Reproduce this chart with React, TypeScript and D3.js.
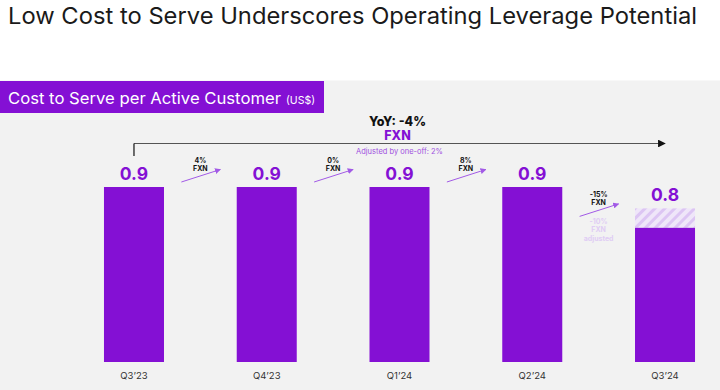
import * as d3 from 'd3'

const categories = ['Q3’23', 'Q4’23', 'Q1’24', 'Q2’24', 'Q3’24']
// reported cost to serve (bar height incl. one-off) and the label shown above
const reportedValues = [0.9, 0.9, 0.9, 0.9, 0.79]
const adjustedValues = [0.9, 0.9, 0.9, 0.9, 0.69]
const valueLabels = ['0.9', '0.9', '0.9', '0.9', '0.8']
const changeLabels = ['4%', '0%', '8%', '-15%']
const adjustedChangeLabels = [null, null, null, '-10%']

const W = 720
const H = 390
const PURPLE = '#8410d4'
const ARROW = '#a25ae6'
const LIGHT = '#e0cdf4'
const FONT = 'Inter, "Noto Sans", sans-serif'

export default function App() {
  const x = d3.scaleBand<string>().domain(categories).range([67.6, 731.4]).paddingInner(0.548).paddingOuter(0.274)
  const y = d3.scaleLinear().domain([0, 0.9]).range([362, 187])
  const bw = x.bandwidth()
  const cx = (c: string) => (x(c) as number) + bw / 2

  const bracketY = 143.5
  const bx0 = cx(categories[0])
  const bx1 = cx(categories[categories.length - 1])
  const bmid = (bx0 + bx1) / 2

  return (
    <svg width={W} height={H} style={{ position: 'absolute', left: 0, top: 0, fontFamily: FONT }}>
      <defs>
        <pattern id="hatch" width="7" height="7" patternUnits="userSpaceOnUse" patternTransform="rotate(45)">
          <rect width="7" height="7" fill="#efe6f9" />
          <rect width="3" height="7" fill="#dcc5f3" />
        </pattern>
        <marker id="ah" viewBox="0 0 10 10" refX="9" refY="5" markerWidth="6" markerHeight="6" orient="auto">
          <path d="M0,0 L10,5 L0,10 z" fill={ARROW} />
        </marker>
        <marker id="ahk" viewBox="0 0 10 10" refX="9" refY="5" markerWidth="7" markerHeight="7" orient="auto">
          <path d="M0,0 L10,5 L0,10 z" fill="#111" />
        </marker>
      </defs>
      <rect width={W} height={H} fill="#ffffff" />
      <rect y={80.5} width={W} height={H - 80.5} fill="#f2f2f2" />

      <text x={8} y={24} fontSize={23} fill="#1a1a1a" textLength={689} lengthAdjust="spacingAndGlyphs">
        Low Cost to Serve Underscores Operating Leverage Potential
      </text>

      <rect x={0} y={81} width={324} height={32} fill={PURPLE} />
      <text x={8} y={104} fill="#fff" fontSize={16} textLength={273} lengthAdjust="spacingAndGlyphs">
        Cost to Serve per Active Customer
      </text>
      <text x={286} y={104} fill="#fff" fontSize={11} textLength={29} lengthAdjust="spacingAndGlyphs">
        (US$)
      </text>

      {/* YoY bracket */}
      <line x1={bx0} y1={bracketY} x2={bx1} y2={bracketY} stroke="#555" strokeWidth={1.1} markerEnd="url(#ahk)" />
      <line x1={bx0} y1={bracketY} x2={bx0} y2={bracketY + 12.5} stroke="#111" strokeWidth={1.2} />
      <text x={bmid - 2} y={126} textAnchor="middle" fontSize={12.5} fontWeight={800} fill="#111">YoY: -4%</text>
      <text x={bmid - 2} y={140} textAnchor="middle" fontSize={12.5} fontWeight={800} fill={PURPLE}>FXN</text>
      <text x={bmid} y={154} textAnchor="middle" fontSize={7.5} fill="#a050e0">Adjusted by one-off: 2%</text>

      {categories.map((c, i) => {
        const top = y(reportedValues[i])
        const solidTop = y(adjustedValues[i])
        return (
          <g key={c}>
            {reportedValues[i] !== adjustedValues[i] && (
              <rect x={x(c)} y={top} width={bw} height={solidTop - top} fill="url(#hatch)" />
            )}
            <rect x={x(c)} y={solidTop} width={bw} height={y(0) - solidTop} fill={PURPLE} />
            <text x={cx(c)} y={top - 7} textAnchor="middle" fontSize={17.5} fontWeight={700} fill={PURPLE}>
              {valueLabels[i]}
            </text>
            <text x={cx(c)} y={379} textAnchor="middle" fontSize={9.5} fill="#333">{c}</text>
          </g>
        )
      })}

      {changeLabels.map((lab, i) => {
        const c0 = categories[i]
        const c1 = categories[i + 1]
        const m = ((x(c0) as number) + bw + (x(c1) as number)) / 2
        const adj = adjustedChangeLabels[i]
        const base = y(Math.min(reportedValues[i], reportedValues[i + 1])) - 5 + (adj ? 13 : 0)
        return (
          <g key={lab}>
            <line x1={m - 19} y1={base} x2={m + 20} y2={base - 12.5} stroke={ARROW} strokeWidth={1} markerEnd="url(#ah)" />
            <text x={m} y={base - 19.5} textAnchor="middle" fontSize={7} fontWeight={700} fill="#111">{lab}</text>
            <text x={m} y={base - 11.5} textAnchor="middle" fontSize={7} fontWeight={700} fill="#111">FXN</text>
            {adj && (
              <g fill={LIGHT} fontSize={7} fontWeight={700} textAnchor="middle">
                <text x={m} y={base + 8}>{adj}</text>
                <text x={m} y={base + 16}>FXN</text>
                <text x={m} y={base + 25}>adjusted</text>
              </g>
            )}
          </g>
        )
      })}
    </svg>
  )
}
